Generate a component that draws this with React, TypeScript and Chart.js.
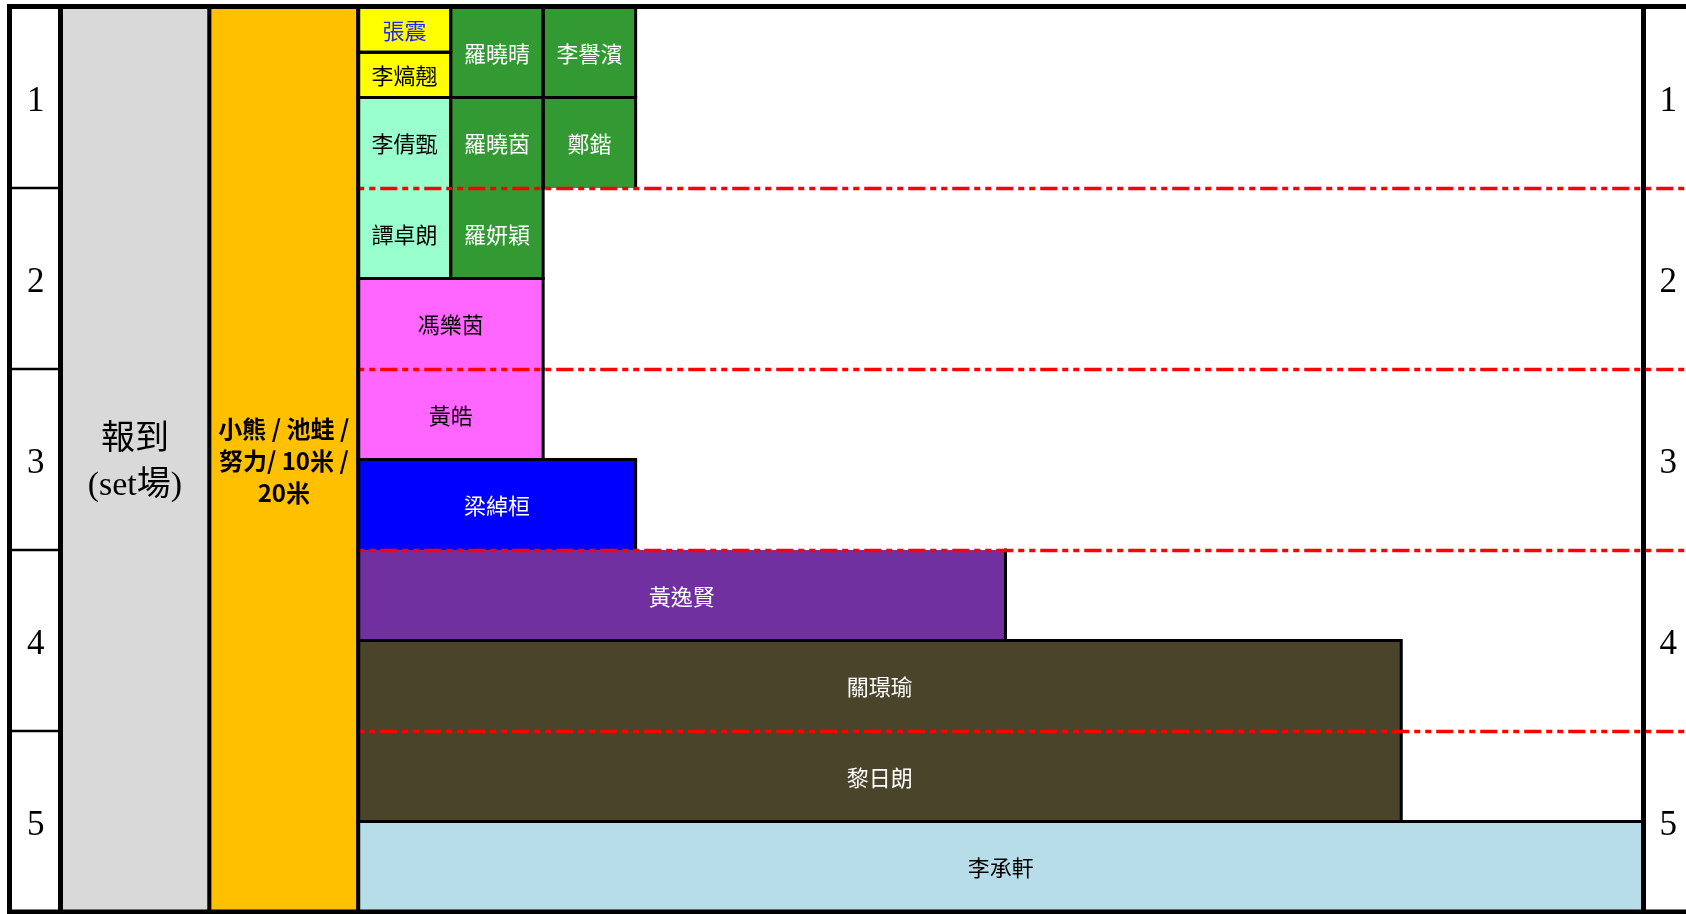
import React, { useEffect, useRef } from "react";
import { Chart, registerables } from "chart.js";

Chart.register(...registerables);

// ---- data ----
const ROW_LABELS = ["1", "2", "3", "4", "5"];
const ROW_TICKS = [0.5, 1.5, 2.5, 3.5, 4.5];
const HOUR_LINES = [1, 2, 3, 4];

const BLOCK_LABELS = [
  "報到\n(set場)",
  "小熊 / 池蛙 /\n努力/ 10米 /\n20米",
  "張震",
  "李熇翹",
  "羅曉晴",
  "李譽濱",
  "李倩甄",
  "羅曉茵",
  "鄭鍇",
  "譚卓朗",
  "羅妍穎",
  "馮樂茵",
  "黃皓",
  "梁綽桓",
  "黃逸賢",
  "關璟瑜",
  "黎日朗",
  "李承軒",
];
const BLOCK_X_START = [-3.22, -1.61, 0, 0, 1, 2, 0, 1, 2, 0, 1, 0, 0, 0, 0, 0, 0, 0];
const BLOCK_X_END = [-1.61, 0, 1, 1, 2, 3, 1, 2, 3, 1, 2, 2, 2, 3, 7, 11.28, 11.28, 13.9];
const BLOCK_Y_START = [0, 0, 0, 0.25, 0, 0, 0.5, 0.5, 0.5, 1, 1, 1.5, 2, 2.5, 3, 3.5, 4, 4.5];
const BLOCK_Y_END = [5, 5, 0.25, 0.5, 0.5, 0.5, 1, 1, 1, 1.5, 1.5, 2, 2.5, 3, 3.5, 4, 4.5, 5];

// ---- styles ----
const BLOCK_FILLS = [
  "#D9D9D9", "#FFC000", "#FFFF00", "#FFFF00", "#339933", "#339933",
  "#99FFCC", "#339933", "#339933", "#99FFCC", "#339933", "#FF66FF",
  "#FF66FF", "#0000FF", "#7030A0", "#4A452A", "#4A452A", "#B7DEE8",
];
const BLOCK_TEXT_COLORS = [
  "#000000", "#000000", "#2222FF", "#000000", "#FFFFFF", "#FFFFFF",
  "#000000", "#FFFFFF", "#FFFFFF", "#000000", "#FFFFFF", "#000000",
  "#000000", "#FFFFFF", "#FFFFFF", "#FFFFFF", "#FFFFFF", "#000000",
];
const SERIF = "'Liberation Serif', 'Times New Roman', 'Noto Sans CJK TC', serif";
const CJK = "'Noto Sans CJK TC', 'Noto Sans', sans-serif";
const NAME_FONT = `22px ${CJK}`;
const BLOCK_FONTS = [
  `34px ${SERIF}`,
  `bold 24px ${CJK}`,
];
const BLOCK_LINE_HEIGHTS = [46, 32];
const BLOCK_TEXT_SHIFT = [4, 1];

const W = 1700;
const H = 914;

const blocksPlugin = {
  id: "blocks",
  beforeDatasetsDraw(chart: any) {
    const { ctx, scales, chartArea } = chart;
    const x = scales.x;
    const y = scales.y;
    ctx.save();

    const rects = BLOCK_LABELS.map((_, i) => {
      const l = x.getPixelForValue(BLOCK_X_START[i]);
      const r = x.getPixelForValue(BLOCK_X_END[i]);
      const t = y.getPixelForValue(BLOCK_Y_START[i]);
      const b = y.getPixelForValue(BLOCK_Y_END[i]);
      return { l, r, t, b };
    });

    // fills
    rects.forEach((rc, i) => {
      ctx.fillStyle = BLOCK_FILLS[i];
      ctx.fillRect(rc.l, rc.t, rc.r - rc.l, rc.b - rc.t);
    });

    // black edges (hour boundaries are replaced by red dash lines)
    ctx.strokeStyle = "#000";
    ctx.lineWidth = 3;
    ctx.lineCap = "square";
    rects.forEach((rc, i) => {
      ctx.beginPath();
      ctx.moveTo(rc.l, rc.t);
      ctx.lineTo(rc.l, rc.b);
      ctx.moveTo(rc.r, rc.t);
      ctx.lineTo(rc.r, rc.b);
      if (!Number.isInteger(BLOCK_Y_START[i])) {
        ctx.moveTo(rc.l, rc.t);
        ctx.lineTo(rc.r, rc.t);
      }
      if (!Number.isInteger(BLOCK_Y_END[i])) {
        ctx.moveTo(rc.l, rc.b);
        ctx.lineTo(rc.r, rc.b);
      }
      ctx.stroke();
    });

    // red dash-dot-dot hour lines
    ctx.lineCap = "butt";
    ctx.strokeStyle = "#FF0000";
    ctx.lineWidth = 3.5;
    ctx.setLineDash([6, 5, 6, 5, 17, 5]);
    HOUR_LINES.forEach((h) => {
      const py = Math.round(y.getPixelForValue(h)) + 0.5;
      ctx.beginPath();
      ctx.moveTo(x.getPixelForValue(0), py);
      ctx.lineTo(W, py);
      ctx.stroke();
    });
    ctx.setLineDash([]);

    // frame
    ctx.fillStyle = "#000";
    ctx.fillRect(7, 4, W - 7, 5);
    ctx.fillRect(7, 909.5, W - 7, 5);
    ctx.fillRect(7, 4, 5, H - 4);
    ctx.fillRect(chartArea.left - 2.5, 4, 5, H - 4);
    ctx.fillRect(x.getPixelForValue(-1.61) - 2, 4, 4, H - 4);
    ctx.fillRect(x.getPixelForValue(0) - 2, 4, 4, H - 4);
    ctx.fillRect(chartArea.right - 2.5, 4, 5, H - 4);
    HOUR_LINES.forEach((h) => {
      const py = y.getPixelForValue(h);
      ctx.fillRect(12, py - 1.25, chartArea.left - 14.5, 2.5);
    });

    // texts
    ctx.textAlign = "center";
    ctx.textBaseline = "middle";
    rects.forEach((rc, i) => {
      const lines = BLOCK_LABELS[i].split("\n");
      const font = BLOCK_FONTS[i] || NAME_FONT;
      const lh = BLOCK_LINE_HEIGHTS[i] || 24;
      const shift = BLOCK_TEXT_SHIFT[i] ?? 1;
      ctx.font = font;
      ctx.fillStyle = BLOCK_TEXT_COLORS[i];
      const cx = (rc.l + rc.r) / 2;
      const cy = (rc.t + rc.b) / 2 + shift;
      lines.forEach((ln, k) => {
        ctx.fillText(ln, cx, cy + (k - (lines.length - 1) / 2) * lh);
      });
    });

    ctx.restore();
  },
};

function rowAxis(position: "left" | "right", width: number, padding: number) {
  return {
    type: "linear",
    position,
    min: 0,
    max: 5,
    reverse: true,
    grid: { display: false, drawTicks: false },
    border: { display: false },
    afterBuildTicks: (s: any) => {
      s.ticks = ROW_TICKS.map((v) => ({ value: v }));
    },
    afterFit: (s: any) => {
      s.width = width;
      s.paddingTop = 0;
      s.paddingBottom = 0;
    },
    ticks: {
      font: { family: SERIF, size: 35 },
      color: "#000",
      padding,
      labelOffset: 4,
      crossAlign: "center",
      autoSkip: false,
      maxRotation: 0,
      callback: (v: any) => ROW_LABELS[ROW_TICKS.indexOf(Number(v))],
    },
  };
}

export default function App() {
  const ref = useRef<HTMLCanvasElement | null>(null);

  useEffect(() => {
    if (!ref.current) return;
    const chart = new Chart(ref.current, {
      type: "scatter",
      data: {
        datasets: [
          { data: [], yAxisID: "y" },
          { data: [], yAxisID: "y2" },
        ],
      },
      options: {
        responsive: false,
        animation: false,
        events: [],
        layout: { padding: { left: 9, right: 8, top: 7, bottom: 2 } },
        plugins: { legend: { display: false }, tooltip: { enabled: false } },
        scales: {
          x: { type: "linear", min: -3.22, max: 13.9, display: false },
          y: rowAxis("left", 51.5, 16),
          y2: rowAxis("right", 48.5, 16),
        },
      } as any,
      plugins: [blocksPlugin],
    });
    return () => chart.destroy();
  }, []);

  return (
    <div
      style={{
        position: "absolute",
        left: 0,
        top: 0,
        width: 1686,
        height: H,
        overflow: "hidden",
        background: "#fff",
      }}
    >
      <canvas ref={ref} width={W} height={H} style={{ display: "block", width: W, height: H }} />
    </div>
  );
}
